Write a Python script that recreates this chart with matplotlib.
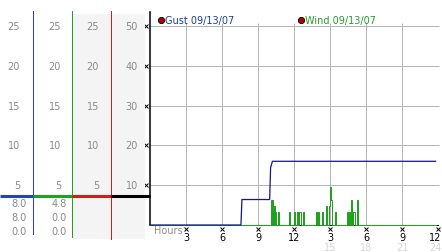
import matplotlib.pyplot as plt
from matplotlib.patches import Rectangle
from matplotlib.transforms import blended_transform_factory

# gust / wind over the day (hours since midnight, mph)
gust_hours = [0.0, 7.58, 7.66, 9.97, 10.05, 10.2, 23.8]
gust_mph = [0.0, 0.0, 6.4, 6.4, 14.4, 16.0, 16.0]

wind_hours = [0.0,
              10.06, 10.14, 10.19, 10.27, 10.33, 10.39, 10.44, 10.54, 10.64, 10.76,
              11.56, 11.68, 12.00, 12.12, 12.22, 12.34, 12.44, 12.56, 12.72, 12.86,
              13.81, 13.92, 13.97, 14.09, 14.31, 14.43, 14.67, 14.76,
              14.89, 14.96, 15.03, 15.10, 15.17,
              15.42, 15.54, 16.39, 16.50, 16.55, 16.64, 16.72, 16.84, 16.94, 17.06, 17.22, 17.34,
              23.8]
wind_mph = [0.0,
            6.4, 0, 6.4, 0, 4.8, 0, 3.2, 0, 3.2, 0,
            3.2, 0, 3.2, 0, 3.2, 0, 3.2, 0, 3.2, 0,
            3.2, 0, 3.2, 0, 3.2, 0, 4.8, 0,
            4.8, 6.4, 9.6, 6.4, 0,
            3.2, 0, 3.2, 0, 3.2, 0, 6.4, 0, 3.2, 0, 6.4, 0,
            0]

# achsen beschriftung
y_ticks = [10, 20, 30, 40, 50]
left_scale = ["5", "10", "15", "20", "25"]
x_ticks = [3, 6, 9, 12, 15, 18, 21, 24]
x_labels = ["3", "6", "9", "12", "3", "6", "9", "12"]
x_ticks_24 = [15, 18, 21, 24]
x_labels_24 = ["15", "18", "21", "24"]
gust_readings = ["8.0", "8.0", "0.0"]
wind_readings = ["4.8", "0.0", "0.0"]

W, H = 442, 253
blau = "#14148c"
blau_hell = "#2044c0"
gruen = "#22a022"
rot = "#c82020"
grau = "#b4b4b4"
px = 0.72  # 1 pixel linewidth

plt.rcParams['font.family'] = ['DejaVu Sans']
fig = plt.figure(figsize=(W / 100, H / 100), dpi=100)

ax = fig.add_axes([150 / W, (H - 226) / H, 288 / W, 213 / H])
ax.set_xlim(0, 24)
ax.set_ylim(0, 53.5)
for s in ["top", "right"]:
    ax.spines[s].set_visible(False)
ax.spines["left"].set_linewidth(1.1)
ax.spines["bottom"].set_linewidth(px)
ax.set_xticks([])
ax.set_yticks([])

# gitter
ax.vlines(x_ticks, 0, 50.8, color=grau, lw=px, zorder=1)
ax.hlines(y_ticks, 0, 24.1, color=grau, lw=px, zorder=1, clip_on=False)

ax.plot(wind_hours, wind_mph, color=gruen, lw=px, drawstyle="steps-post", clip_on=False, zorder=3)
ax.plot(gust_hours, gust_mph, color=blau, lw=0.9, clip_on=False, zorder=4)

# kleine tick-marken
ax.plot([-0.3] * len(y_ticks), y_ticks, "x", color="black", ms=2.6, mew=0.7, clip_on=False)

# overlay in pixel koordinaten
bg = fig.add_axes([0, 0, 1, 1], zorder=5)
bg.set_xlim(0, W)
bg.set_ylim(H, 0)
bg.axis("off")
bg.patch.set_alpha(0)

bx = blended_transform_factory(ax.transData, bg.transData)
by = blended_transform_factory(bg.transData, ax.transData)

bg.add_patch(Rectangle((73, 15), 72, 225, color="#f4f4f4", lw=0, zorder=0))

bg.plot([33, 33], [12, 235], color=blau_hell, lw=px)
bg.plot([72, 72], [12, 238], color=gruen, lw=px)
bg.plot([111, 111], [12, 240], color=rot, lw=px)
bg.plot([0, 33], [197, 197], color=blau_hell, lw=2.2, solid_capstyle="butt")
bg.plot([33, 72], [197, 197], color=gruen, lw=2.2, solid_capstyle="butt")
bg.plot([72, 111], [197, 197], color=rot, lw=2.2, solid_capstyle="butt")
bg.plot([111, 150], [197, 197], color="black", lw=2.2, solid_capstyle="butt")

fs = 7
for v, lab in zip(y_ticks, left_scale):
    for xr in [20, 61, 99]:
        bg.text(xr, v, lab, transform=by, ha="right", va="center", fontsize=fs, color="#8a8a8a")
    bg.text(138, v, str(v), transform=by, ha="right", va="center", fontsize=fs, color="#8a8a8a")

for i, yy in enumerate([204, 218, 232]):
    bg.text(27, yy, gust_readings[i], ha="right", va="center", fontsize=fs, color="#8a8a8a")
    bg.text(67, yy, wind_readings[i], ha="right", va="center", fontsize=fs, color="#8a8a8a")

# x achse
bg.plot(x_ticks, [230] * len(x_ticks), "x", color="black", ms=2.6, mew=0.7, transform=bx)
for h, lab in zip(x_ticks, x_labels):
    ha = "right" if h == 24 else "center"
    xx = h + 0.28 if h == 24 else h
    bg.text(xx, 238, lab, transform=bx, ha=ha, va="center", fontsize=fs, color="black")
for h, lab in zip(x_ticks_24, x_labels_24):
    ha = "right" if h == 24 else "center"
    xx = h + 0.28 if h == 24 else h
    bg.text(xx, 248, lab, transform=bx, ha=ha, va="center", fontsize=fs, color="#d4d4d4")
bg.text(154, 231, "Hours", ha="left", va="center", fontsize=fs, color="#909090")

# legende
bg.plot([161, 301], [21, 21], "o", ms=4.5, mfc="#b00000", mec="black", mew=0.6, ls="none")
bg.text(165, 21, "Gust 09/13/07", ha="left", va="center", fontsize=fs, color="#1c3c9c")
bg.text(305, 21, "Wind 09/13/07", ha="left", va="center", fontsize=fs, color="#2a9a2a")

fig.savefig("out.png", dpi=100)
